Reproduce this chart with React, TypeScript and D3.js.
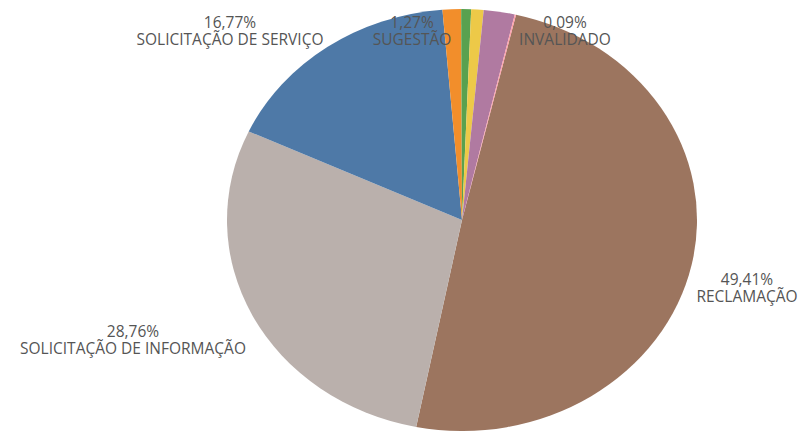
import * as d3 from "d3";

// categories and shares (%) in drawing order, clockwise
const categories = [
  "RECLAMAÇÃO",
  "SOLICITAÇÃO DE INFORMAÇÃO",
  "SOLICITAÇÃO DE SERVIÇO",
  "SUGESTÃO",
  "ELOGIO",
  "DENÚNCIA",
  "OUTROS",
  "INVALIDADO",
];
const values = [49.41, 28.76, 16.77, 1.27, 0.68, 0.85, 2.13, 0.09];
const labels = ["49,41%", "28,76%", "16,77%", "1,27%", "", "", "", "0,09%"];
const colors = ["#9c755f", "#bab0ac", "#4e79a7", "#f28e2b", "#59a14f", "#edc948", "#b07aa1", "#ff9da7"];

// label anchors (layout only)
const labelAnchors: ([number, number] | null)[] = [
  [747, 285],
  [133, 337],
  [230, 28],
  [412, 28],
  null,
  null,
  null,
  [565, 28],
];

const width = 800;
const height = 431;
const cx = 462;
const cy = 220;
const ry = 211;
const rx = 235;

export default function App() {
  const total = d3.sum(values);
  const start = (13.3 / 360) * 2 * Math.PI;
  const pie = d3
    .pie<number>()
    .sort(null)
    .value((d) => d)
    .startAngle(start)
    .endAngle(start + 2 * Math.PI);
  const arcs = pie(values.map((v) => v / total));
  const arc = d3.arc<d3.PieArcDatum<number>>().innerRadius(0).outerRadius(ry);

  return (
    <svg
      width={width}
      height={height}
      style={{ position: "absolute", left: 0, top: 0, background: "#fff" }}
      fontFamily="'Open Sans', sans-serif"
    >
      <g transform={`translate(${cx},${cy}) scale(${rx / ry},1)`}>
        {arcs.map((a, i) => (
          <path key={categories[i]} d={arc(a) || ""} fill={colors[i]} />
        ))}
      </g>
      {labelAnchors.map((p, i) =>
        p ? (
          <g key={i}>
            <text x={p[0]} y={p[1]} textAnchor="middle" fontSize={15.5} fill="#555">
              {labels[i]}
            </text>
            <text x={p[0]} y={p[1] + 17} textAnchor="middle" fontSize={15.5} fill="#555">
              {categories[i]}
            </text>
          </g>
        ) : null
      )}
    </svg>
  );
}
